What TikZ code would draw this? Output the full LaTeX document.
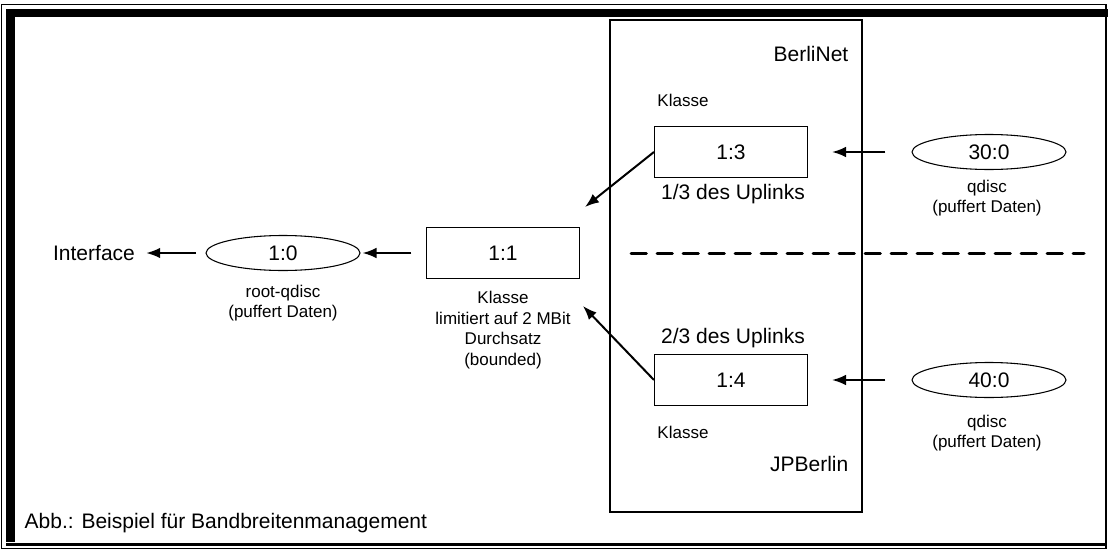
\documentclass[tikz,border=0pt]{standalone}
\usepackage{fontspec}
\setmainfont{Liberation Sans}
\usetikzlibrary{arrows.meta,shapes.geometric}

\begin{document}
\begin{tikzpicture}[x=0.75pt,y=-0.75pt,
    big/.style={font=\fontsize{15.75}{19}\selectfont},
    small/.style={font=\fontsize{12.75}{15.5}\selectfont, align=center},
    klasse/.style={draw, line width=0.8pt, minimum width=114.75pt, minimum height=38.25pt, big},
    qdisc/.style={draw, ellipse, line width=0.8pt, inner sep=0pt, minimum width=115.5pt, minimum height=26.25pt, big},
    arr/.style={-{Latex[length=10.5pt,width=8pt]}, line width=1.5pt}]
  \useasboundingbox (0,0) rectangle (1108,550);
  % frame
  \draw[line width=1.1pt] (1.5,4.5) rectangle (1106,548.5);
  \fill (6,9) rectangle (1108,17);
  \fill (6,9) rectangle (15,542);
  \draw[line width=1.8pt] (6,544.5) -- (1106,544.5);

  \node[draw, line width=0.8pt, minimum width=189pt, minimum height=369pt] (group) at (736,266) {};

  \node[big] (iface) at (94,253) {Interface};
  \node[qdisc] (q10) at (283,253) {1:0};
  \node[klasse] (b11) at (503,253) {1:1};
  \node[klasse] (b13) at (731,152) {1:3};
  \node[klasse] (b14) at (731,380) {1:4};
  \node[qdisc] (q30) at (989,152) {30:0};
  \node[qdisc] (q40) at (989,380) {40:0};

  \node[small] (l10) at (283,303) {root-qdisc\\(puffert Daten)};
  \node[small] (l11) at (503,330) {Klasse\\limitiert auf 2 MBit\\Durchsatz\\(bounded)};
  \node[small] (k13) at (683,100) {Klasse};
  \node[big] (u13) at (733,194) {1/3 des Uplinks};
  \node[big] (u14) at (733,338) {2/3 des Uplinks};
  \node[small] (k14) at (683,432) {Klasse};
  \node[big, anchor=east] (bn) at (853,54) {BerliNet};
  \node[big, anchor=east] (jp) at (853,464) {JPBerlin};
  \node[small] (l30) at (987,198) {qdisc\\(puffert Daten)};
  \node[small] (l40) at (987,433) {qdisc\\(puffert Daten)};
  \node[big, anchor=west] (cap) at (20,523) {Abb.: Beispiel für Bandbreitenmanagement};

  % separator
  \coordinate (sepL) at (631,253);
  \coordinate (sepR) at (1084,253);
  \draw[line width=2.25pt, line cap=round, dash pattern=on 11.5pt off 8pt] (sepL) -- (sepR);

  % flow
  \coordinate (t13) at (585,207);
  \coordinate (t14) at (583,306);
  \draw[arr, shorten <=7pt, shorten >=5pt] (q10) -- (iface);
  \draw[arr, shorten <=11pt, shorten >=1.5pt] (b11) -- (q10);
  \draw[arr, shorten <=19.5pt, shorten >=18pt] (q30) -- (b13);
  \draw[arr, shorten <=19.5pt, shorten >=18pt] (q40) -- (b14);
  \draw[arr] (b13.west) -- (t13);
  \draw[arr] (b14.west) -- (t14);
\end{tikzpicture}
\end{document}
